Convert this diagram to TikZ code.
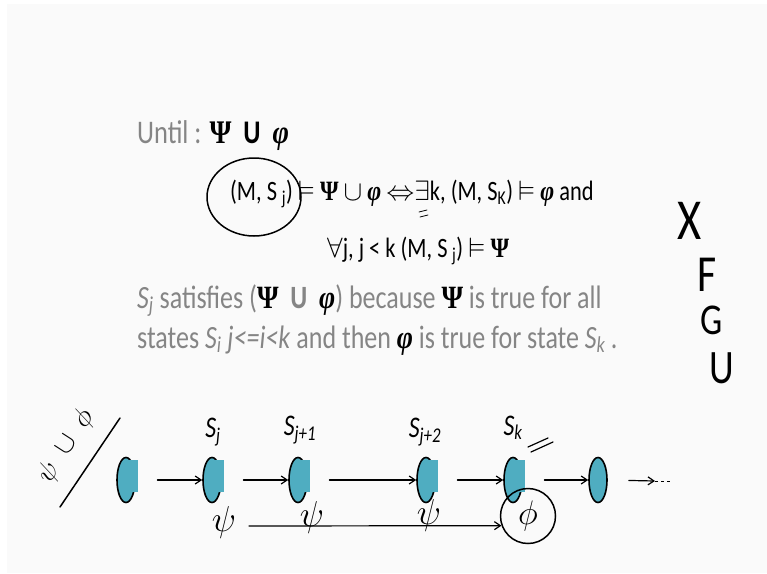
\documentclass[tikz,border=0pt]{standalone}
\usepackage{fix-cm}
\usepackage{amsmath, amssymb}
\usepackage{fontspec}
\setmainfont{Carlito}[FakeStretch=0.8]
\newfontfamily\symserif{Liberation Serif}[FakeStretch=0.85]
\usetikzlibrary{arrows.meta, shapes.geometric, positioning}
\definecolor{slideGray}{HTML}{858585}
\definecolor{stateFill}{HTML}{4FADC1}
\definecolor{slideBg}{HTML}{FAFAFA}
\newcommand{\bPsi}{{\color{black}\symserif\bfseries Ψ}}
\newcommand{\bphi}{{\color{black}\symserif\bfseries\itshape φ}}

\begin{document}
\begin{tikzpicture}[x=1pt, y=-1pt,
    pen/.style={line width=1.5pt, line cap=round, line join=round},
    arr/.style={pen, line width=1.2pt, -{Straight Barb[length=6pt, width=8pt]}},
    state/.style={ellipse, draw, line width=1.6pt, fill=stateFill, inner sep=0pt,
      minimum width=18pt, minimum height=45pt},
    statecap/.style={rectangle, fill=stateFill, inner sep=0pt, minimum width=10pt,
      minimum height=32pt, anchor=west},
    hand/.style={font=\fontsize{30}{30}\selectfont\itshape, inner sep=0pt},
    letter/.style={font=\fontsize{#1}{#1}\selectfont, inner sep=0pt,
      text height=0.62em, text depth=0pt},
    slide/.style={anchor=base west, inner sep=0pt}]
  \fill[white] (0,0) rectangle (767,573);
  \fill[slideBg] (7,4) rectangle (767,573);
  \useasboundingbox (0,0) rectangle (767,573);

  % slide text
  \node[slide, font=\fontsize{33}{33}\selectfont] (title) at (137,143)
    {\textcolor{slideGray}{Until :} \bPsi\ \ \textbf{U}\ \ \bphi};
  \node[slide, font=\fontsize{28}{28}\selectfont] (defA) at (230,200)
    {(M, S\,\textsubscript{j}) $\vDash$ \bPsi\ $\cup$ \bphi\ $\Leftrightarrow$$\exists$k, (M, S\textsubscript{K}) $\vDash$ \bphi\ and};
  \node[slide, font=\fontsize{28}{28}\selectfont] (defB) at (327,257)
    {$\forall$j, j < k (M, S\,\textsubscript{j}) $\vDash$ \bPsi};
  \node[slide, font=\fontsize{32.5}{33}\selectfont, text=slideGray] (expA) at (137,308)
    {\textit{S\textsubscript{j}} satisfies (\bPsi\ \ \textbf{U}\ \ \bphi) because \bPsi\ is true for all};
  \node[slide, font=\fontsize{32.5}{33}\selectfont, text=slideGray] (expB) at (137,348)
    {states \textit{S\textsubscript{i}\ j<=i<k} and then \bphi\ is true for state \textit{S\textsubscript{k}}\,.};

  % pen notes on the slide
  \draw[pen] (254,197) ellipse [x radius=47, y radius=39];
  \draw[pen, line width=0.8pt] (419,212) -- (427,210) (420,217) -- (428,215);
  \node[letter=58] (opX) at (690,236) {X};
  \node[letter=52] (opF) at (707,288) {F};
  \node[letter=44] (opG) at (712,331) {G};
  \node[letter=48] (opU) at (722,380) {U};

  % states
  \foreach \n/\x in {0/126,1/212,2/298,3/426,4/513} {
    \node[state] (s\n) at (\x,480) {};
    \node[statecap] (c\n) at ([shift={(2,-4)}]s\n.center) {};
  }
  \node[state] (s5) at (598,480) {};
  \foreach \a/\b in {0/1,1/2,2/3,3/4,4/5}
    \draw[arr, shorten <=19pt] (c\a.east |- s\b.west) -- (s\b.west);
  \coordinate (tailM) at (655,481);
  \coordinate (tailB) at (672,481);
  \draw[arr, shorten <=21pt] (s5.east) -- (tailM);
  \draw[line width=1pt, dashed] (tailM) -- (tailB);

  % labels
  \node[hand] (lj) at (213,432) {S\textsubscript{j}};
  \node[hand] (lj1) at (300,430) {S\textsubscript{j+1}};
  \node[hand] (lj2) at (425,432) {S\textsubscript{j+2}};
  \node[hand] (lk) at (513,428) {S\textsubscript{k}};
  \draw[pen, line width=1.2pt] (528,447) -- (548,438) (531,452) -- (553,442);
  \node[hand, font=\fontsize{28}{28}\selectfont, rotate=57] (until) at (66,446) {$\psi\;\cup\;\phi$};
  \draw[pen] (60,507) -- (120,418);

  \node[hand, font=\fontsize{36}{36}\selectfont] (p1) at (224,522) {$\psi$};
  \node[hand, font=\fontsize{36}{36}\selectfont] (p2) at (312,517) {$\psi$};
  \node[hand, font=\fontsize{36}{36}\selectfont] (p3) at (429,515) {$\psi$};
  \node[draw, pen, circle, minimum size=55pt, inner sep=0pt,
    font=\fontsize{34}{34}\selectfont] (phik) at (528,516) {$\phi$};
  \coordinate (psistart) at (249,526);
  \draw[arr] (psistart) -- (phik.200);
\end{tikzpicture}
\end{document}
